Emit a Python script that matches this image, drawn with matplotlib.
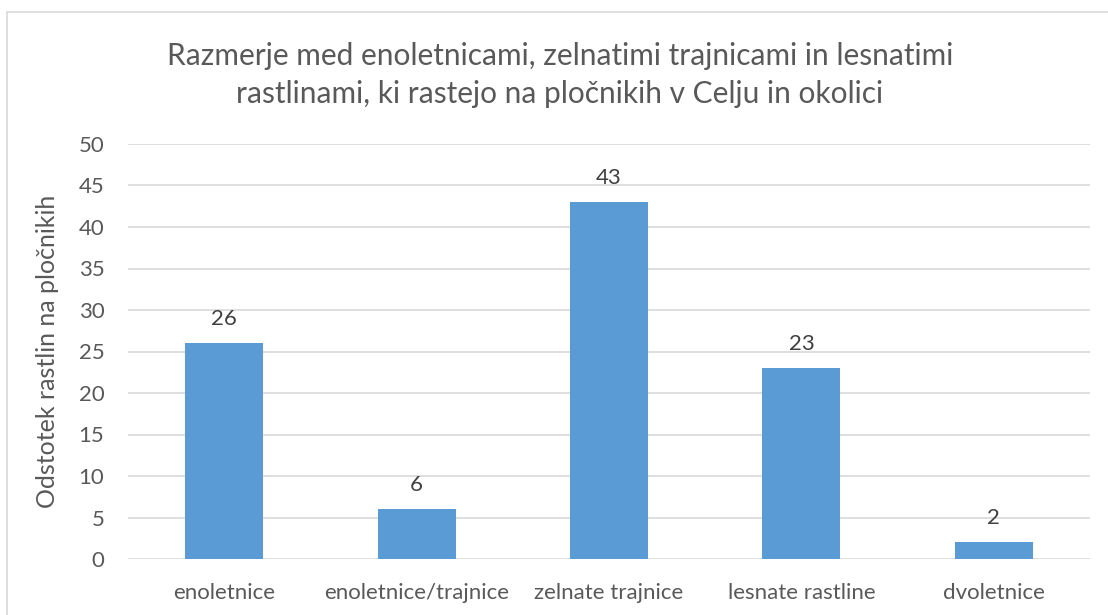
import matplotlib
matplotlib.use("Agg")
import matplotlib.pyplot as plt
from matplotlib.patches import Rectangle

categories = ["enoletnice", "enoletnice/trajnice", "zelnate trajnice", "lesnate rastline", "dvoletnice"]
values = [26, 6, 43, 23, 2]
yticks = [0, 5, 10, 15, 20, 25, 30, 35, 40, 45, 50]

plt.rcParams['font.family'] = ['Lato', 'DejaVu Sans']

fig = plt.figure(figsize=(11.08, 6.15), dpi=100)
ax = fig.add_axes([128/1108, 56/615, (1090-128)/1108, (559-144)/615])

x = list(range(len(categories)))
bars = ax.bar(x, values, width=0.405, color="#5b9bd5", zorder=3)
for xi, v in zip(x, values):
    ax.text(xi, v + 2.2, str(v), ha="center", va="baseline", fontsize=16, color="#404040")

ax.set_xlim(-0.5, len(categories) - 0.5)
ax.set_ylim(0, 50)
ax.set_yticks(yticks)
ax.set_xticks(x)
ax.set_xticklabels(categories)
ax.tick_params(axis="both", length=0, labelsize=16, labelcolor="#595959")
ax.tick_params(axis="x", pad=17)
ax.tick_params(axis="y", pad=17)
ax.grid(axis="y", color="#d9d9d9", linewidth=1.2, zorder=0)
for s in ax.spines.values():
    s.set_visible(False)

ax.set_ylabel("Odstotek rastlin na pločnikih", fontsize=18, color="#595959")
ax.yaxis.set_label_coords(-69/962, 0.5)

fig.text(560/1108, 1 - 75/615,
         "Razmerje med enoletnicami, zelnatimi trajnicami in lesnatimi\nrastlinami, ki rastejo na pločnikih v Celju in okolici",
         ha="center", va="center", fontsize=21.5, color="#595959", linespacing=1.4)

border = Rectangle((7/1108, -0.01), 1.2, 1 - 12/615 + 0.01, transform=fig.transFigure,
                   fill=False, edgecolor="#d9d9d9", linewidth=1.2)
fig.patches.append(border)

fig.savefig("out.png", dpi=100)
